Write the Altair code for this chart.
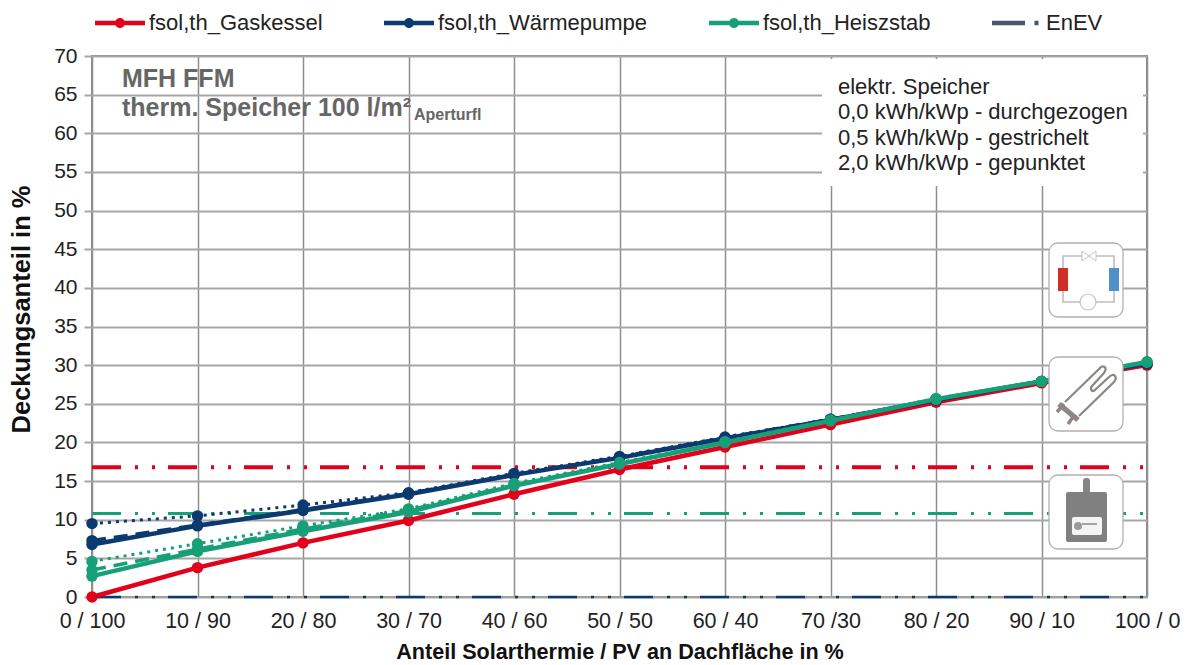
import altair as alt
import pandas as pd
from urllib.parse import quote

cats = ["0 / 100","10 / 90","20 / 80","30 / 70","40 / 60","50 / 50","60 / 40","70 /30","80 / 20","90 / 10","100 / 0"]
gas = [0.0,3.8,7.0,9.9,13.3,16.5,19.4,22.3,25.2,27.7,30.0]
wp_solid = [6.8,9.2,11.2,13.3,15.8,18.0,20.5,22.9,25.5,27.9,30.2]
wp_dash = [7.3,9.3,11.3,13.4,15.8,18.1,20.6,23.0,25.5,27.9,30.2]
wp_dot = [9.5,10.5,11.9,13.5,16.0,18.2,20.7,23.0,25.5,27.9,30.2]
hs_solid = [2.7,5.9,8.5,11.0,14.4,17.2,20.0,22.8,25.6,27.9,30.4]
hs_dash = [3.5,6.2,8.8,11.2,14.5,17.2,20.0,22.8,25.6,27.9,30.4]
hs_dot = [4.6,6.9,9.2,11.4,14.7,17.4,20.1,22.9,25.7,27.9,30.4]
enev_gas = 16.8
enev_hs = 10.8
enev_wp = 0.0

names = ["fsol,th_Gaskessel","fsol,th_Wärmepumpe","fsol,th_Heiszstab","EnEV"]
colors = ["#e2001a","#0b3a70","#17a078","#46596a"]
FONT = "Liberation Sans"

line_path = "M-1,-0.09H1V0.09H-1Z M-0.2,0A0.2,0.2,0,1,1,0.2,0A0.2,0.2,0,1,1,-0.2,0Z"
enev_path = "M-1,-0.09H0.32V0.09H-1Z M0.7,-0.09H0.86V0.09H0.7Z"
shapes = [line_path, line_path, line_path, enev_path]

X = alt.X("cat:N", sort=cats, scale=alt.Scale(type="point", domain=cats, padding=0),
          axis=alt.Axis(title="Anteil Solarthermie / PV an Dachfläche in %", labelAngle=0, grid=True,
                        gridColor="#8e8e8e", gridWidth=1.5, ticks=False, domain=False,
                        labelFont=FONT, labelFontSize=21.5, labelColor="#222222", labelPadding=13,
                        titleFont=FONT, titleFontSize=21.6, titleFontWeight="bold", titleColor="#111111",
                        titlePadding=10))
Y = alt.Y("v:Q", scale=alt.Scale(domain=[0,70], nice=False),
          axis=alt.Axis(title="Deckungsanteil in %", values=list(range(0,75,5)), grid=True,
                        gridColor="#a6a6a6", gridWidth=2, tickColor="#a6a6a6", tickSize=8, tickWidth=2,
                        domain=False, labelFont=FONT, labelFontSize=21, labelColor="#222222", labelPadding=7,
                        titleFont=FONT, titleFontSize=25.5, titleFontWeight="bold", titleColor="#111111",
                        titleX=-58, titleY=253))

def frame(vals):
    return pd.DataFrame({"cat": cats, "v": vals})

def series(vals, color, width, dash=None, pts=True):
    kw = {"color": color, "strokeWidth": width, "clip": False}
    if dash:
        kw["strokeDash"] = dash
    l = alt.Chart(frame(vals)).mark_line(**kw).encode(x=X, y=Y)
    if not pts:
        return [l]
    return [l, alt.Chart(frame(vals)).mark_circle(color=color, size=130, opacity=1, clip=False).encode(x=X, y=Y)]

enev_dash = [29,14,3,14,3,13]
layers = []
for val, col, w in [(enev_wp, colors[1], 2.5), (enev_gas, colors[0], 4), (enev_hs, colors[2], 3)]:
    layers += series([val]*len(cats), col, w, enev_dash, pts=False)

dash = [14,8]
dot = [3,5]
layers += series(gas, colors[0], 4.5)
layers += series(wp_dot, colors[1], 3, dot)
layers += series(wp_dash, colors[1], 3.5, dash)
layers += series(wp_solid, colors[1], 4.5)
layers += series(hs_dot, colors[2], 3, dot)
layers += series(hs_dash, colors[2], 3.5, dash)
layers += series(hs_solid, colors[2], 4.5)

# legend carrier
leg = alt.Legend(title=None, orient="none", legendX=3, legendY=-58, columns=4, columnPadding=61,
                 symbolSize=2500, symbolStrokeWidth=0, labelFont=FONT, labelFontSize=22, labelColor="#222222",
                 labelOffset=4, labelLimit=400, symbolOpacity=1)
legend_df = pd.DataFrame({"s": names, "cat": cats[0], "v": 0.0})
layers.append(alt.Chart(legend_df).mark_point(filled=True, size=0, opacity=0).encode(
    x=X, y=Y,
    color=alt.Color("s:N", sort=names, scale=alt.Scale(domain=names, range=colors), legend=leg),
    shape=alt.Shape("s:N", sort=names, scale=alt.Scale(domain=names, range=shapes), legend=leg),
))

# white box behind the note
box = pd.DataFrame({"a":[730],"b":[1051],"c":[3],"d":[130]})
layers.append(alt.Chart(box).mark_rect(color="white").encode(
    x=alt.X("a:Q", scale=None), x2="b:Q", y=alt.Y("c:Q", scale=None), y2="d:Q"))

# Icons
def uri(svg):
    return "data:image/svg+xml;utf8," + quote(svg)
frame_svg = '<rect x="1" y="1" width="74" height="74" rx="9" fill="white" stroke="#b4b0ae" stroke-width="1.3"/>'
icon1 = ('<svg xmlns="http://www.w3.org/2000/svg" width="76" height="76">' + frame_svg +
  '<path d="M15 26V14H66V26M15 49V60H66V49" fill="none" stroke="#bdbdbd" stroke-width="1.6"/>'
  '<rect x="10" y="26" width="10" height="23" fill="#cf2e26"/><rect x="61" y="26" width="10" height="23" fill="#4f90c8"/>'
  '<path d="M34 9L48 19V9L34 19Z" fill="white" stroke="#c4c4c4"/>'
  '<circle cx="40" cy="60" r="8" fill="white" stroke="#c4c4c4" stroke-width="1.2"/></svg>')
icon2 = ('<svg xmlns="http://www.w3.org/2000/svg" width="76" height="76">' + frame_svg +
  '<path d="M17 46L51 13C55 8 60 11 56 17L44 30C41 34 45 37 48 33L61 21C66 16 70 21 66 26L31 60" fill="none" stroke="#8f8683" stroke-width="2.2"/>'
  '<path d="M11 48L30 64" stroke="#8f8683" stroke-width="5.5"/>'
  '<path d="M9 56L16 48M20 68L25 61" stroke="#8f8683" stroke-width="3.5"/></svg>')
icon3 = ('<svg xmlns="http://www.w3.org/2000/svg" width="76" height="76">' + frame_svg +
  '<rect x="35" y="4" width="7" height="16" rx="3" fill="#858585"/>'
  '<rect x="18" y="18" width="41" height="50" rx="2" fill="#808080"/>'
  '<rect x="24" y="43" width="30" height="18" rx="2" fill="#f4f4f4"/>'
  '<circle cx="30" cy="52" r="4" fill="#9a9a9a"/><path d="M34 50H49" stroke="#8a8a8a" stroke-width="1.5"/></svg>')
icons = pd.DataFrame({"ix":[956,956,956], "iy":[186,300,418], "url":[uri(icon1),uri(icon2),uri(icon3)]})
layers.append(alt.Chart(icons).mark_image(width=76, height=76, align="left", baseline="top").encode(
    x=alt.X("ix:Q", scale=None), y=alt.Y("iy:Q", scale=None), url="url:N"))

# Notes
notes = pd.DataFrame({
    "t":["MFH FFM","therm. Speicher 100 l/m²","Aperturfl"],
    "tx":[30,30,322], "ty":[31,60,64], "fs":[25,25,16]})
layers.append(alt.Chart(notes).mark_text(align="left", baseline="alphabetic", font=FONT, fontWeight="bold", color="#666666", clip=False).encode(
    x=alt.X("tx:Q", scale=None), y=alt.Y("ty:Q", scale=None), text="t:N", size=alt.Size("fs:Q", scale=None, legend=None)))
note2 = pd.DataFrame({"t":["elektr. Speicher","0,0 kWh/kWp - durchgezogen","0,5 kWh/kWp - gestrichelt","2,0 kWh/kWp - gepunktet"],
                      "tx":[746]*4, "ty":[38,63,89,114]})
layers.append(alt.Chart(note2).mark_text(align="left", baseline="alphabetic", font=FONT, fontSize=22, color="#222222").encode(
    x=alt.X("tx:Q", scale=None), y=alt.Y("ty:Q", scale=None), text="t:N"))

chart = alt.layer(*layers).properties(
    width=1055, height=541, autosize="none",
    padding={"left":84,"top":48,"right":34,"bottom":67},
).configure_view(stroke="#8e8e8e", strokeWidth=2)

chart.save("out.html", embed_options={"renderer": "svg", "actions": False})
